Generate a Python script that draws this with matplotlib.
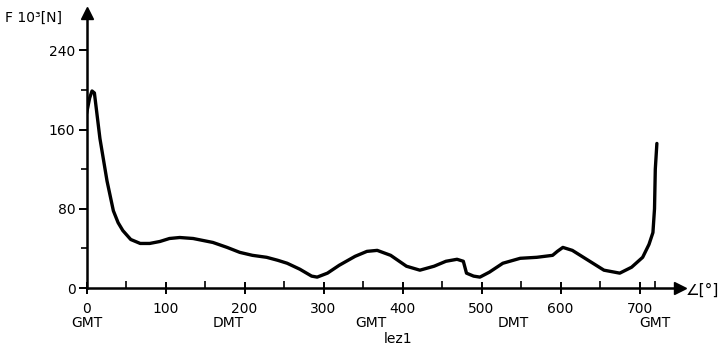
import matplotlib
matplotlib.use("Agg")
import matplotlib.pyplot as plt

# crank angle [deg] and force [10^3 N]
angle = [0, 4, 7, 10, 17, 26, 34, 40, 46, 56, 68, 80, 93, 105, 118, 135, 160, 178, 194, 210,
         228, 242, 254, 270, 285, 292, 305, 320, 340, 355, 368, 385, 405, 422, 440, 455,
         469, 477, 481, 490, 498, 510, 527, 549, 570, 590, 596, 603, 615, 635, 655, 675,
         690, 704, 712, 717, 719, 720, 722]
force = [176, 192, 199, 197, 151, 108, 78, 66, 58, 49, 45, 45, 47, 50, 51, 50, 46, 41, 36, 33,
         31, 28, 25, 19, 12, 11, 15, 23, 32, 37, 38, 33, 22, 18, 22, 27,
         29, 27, 15, 12, 11, 16, 25, 30, 31, 33, 37, 41, 38, 28, 18, 15,
         21, 31, 44, 56, 80, 120, 146]

xticks = [0, 100, 200, 300, 400, 500, 600, 700]
yticks = [0, 80, 160, 240]
phase_pos = [0, 180, 360, 540, 720]
phase_lbl = ["GMT", "DMT", "GMT", "DMT", "GMT"]

fig = plt.figure(figsize=(7.23, 3.51), dpi=100)
ax = fig.add_axes([86.5 / 723, 63 / 351, (680 - 86.5) / 723, (288 - 13) / 351])
xmax = (680 - 86.5) / 0.79
ymax = (288 - 13) / 0.99
ax.set_xlim(0, xmax)
ax.set_ylim(0, ymax)

ax.plot(angle, force, color="black", lw=2.4, solid_capstyle="round", solid_joinstyle="round")

for s in ["top", "right"]:
    ax.spines[s].set_visible(False)
for s in ["left", "bottom"]:
    ax.spines[s].set_linewidth(1.8)

ax.plot([0], [ymax], marker="^", color="black", markersize=8, clip_on=False)
ax.plot([xmax], [0], marker=">", color="black", markersize=8, clip_on=False)

ax.set_xticks(xticks)
ax.set_xticklabels([str(t) for t in xticks], fontsize=10)
ax.set_xticks([50, 150, 250, 350, 450, 550, 650, 720], minor=True)
ax.set_yticks(yticks)
ax.set_yticklabels([str(t) for t in yticks], fontsize=10)
ax.set_yticks([40, 120, 200], minor=True)
ax.tick_params(axis="x", which="major", direction="inout", length=8, width=1.4, pad=6)
ax.tick_params(axis="x", which="minor", direction="in", length=5, width=1.2)
ax.tick_params(axis="y", which="major", direction="out", length=6, width=1.4, pad=2)
ax.tick_params(axis="y", which="minor", direction="out", length=4, width=1.2)

for p, l in zip(phase_pos, phase_lbl):
    ax.text(p, -35, l, ha="center", va="center", fontsize=10)

ax.text(395, -52, "lez1", ha="center", va="center", fontsize=10)

fig.text(5 / 723, 1 - 18 / 351, "F 10³[N]", ha="left", va="center", fontsize=10)
fig.text(719 / 723, 1 - 290 / 351, "∠[°]", ha="right", va="center", fontsize=11)

fig.savefig("out.png", dpi=100)
